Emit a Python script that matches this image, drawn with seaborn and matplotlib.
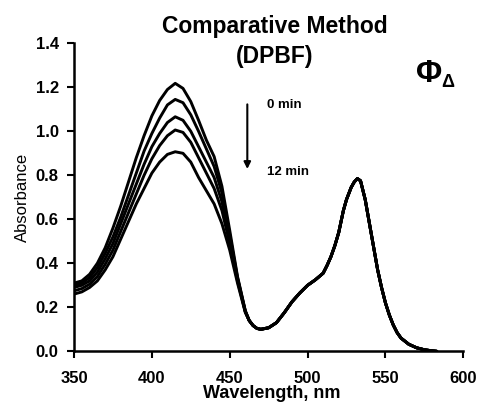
import matplotlib
matplotlib.use("Agg")
import matplotlib.pyplot as plt
import seaborn as sns
import pandas as pd
import numpy as np

# ---- data ----
wl_dpbf = [350, 355, 360, 365, 370, 375, 380, 385, 390, 395, 400, 405, 410,
           415, 420, 425, 430, 435, 440, 445, 450, 455, 460]
abs_0min = [0.31, 0.32, 0.35, 0.40, 0.47, 0.56, 0.66, 0.77, 0.88, 0.98, 1.07, 1.14, 1.19,
            1.218, 1.195, 1.135, 1.05, 0.96, 0.885, 0.75, 0.55, 0.34, 0.185]
abs_3min = [0.30, 0.31, 0.335, 0.38, 0.445, 0.52, 0.61, 0.71, 0.81, 0.91, 0.99, 1.06, 1.12,
            1.145, 1.13, 1.075, 1.00, 0.92, 0.84, 0.72, 0.53, 0.335, 0.183]
abs_6min = [0.29, 0.30, 0.32, 0.36, 0.42, 0.49, 0.58, 0.67, 0.76, 0.85, 0.93, 0.99, 1.04,
            1.066, 1.05, 1.00, 0.93, 0.86, 0.79, 0.68, 0.51, 0.33, 0.181]
abs_9min = [0.275, 0.285, 0.305, 0.34, 0.395, 0.46, 0.545, 0.63, 0.715, 0.80, 0.875, 0.935, 0.98,
            1.006, 0.995, 0.95, 0.88, 0.81, 0.74, 0.64, 0.49, 0.32, 0.179]
abs_12min = [0.26, 0.27, 0.29, 0.32, 0.37, 0.43, 0.51, 0.59, 0.67, 0.74, 0.81, 0.86, 0.895,
             0.907, 0.90, 0.86, 0.79, 0.73, 0.67, 0.58, 0.46, 0.31, 0.177]

wl_tail = [462.5, 465, 467.5, 470, 475, 480, 485, 490, 495, 500, 505, 510, 512.5, 515, 517.5,
           520, 523, 525, 528, 530, 532, 534, 537, 540, 542.5, 545, 547.5, 550, 552.5, 555,
           557.5, 560, 565, 570, 575, 580, 583]
abs_tail = [0.14, 0.117, 0.104, 0.10, 0.107, 0.13, 0.175, 0.225, 0.265, 0.30, 0.325, 0.355, 0.39, 0.43, 0.48,
            0.54, 0.64, 0.69, 0.745, 0.77, 0.785, 0.775, 0.69, 0.57, 0.47, 0.37, 0.29, 0.22, 0.165, 0.12,
            0.085, 0.06, 0.032, 0.016, 0.007, 0.002, 0.0]

times = ["0 min", "3 min", "6 min", "9 min", "12 min"]
series = [abs_0min, abs_3min, abs_6min, abs_9min, abs_12min]

x_ticks = [350, 400, 450, 500, 550, 600]
y_ticks = [0.0, 0.2, 0.4, 0.6, 0.8, 1.0, 1.2, 1.4]

rows = []
for t, s in zip(times, series):
    for w, a in zip(wl_dpbf + wl_tail, s + abs_tail):
        rows.append({"Wavelength": w, "Absorbance": a, "time": t})
df = pd.DataFrame(rows)

# ---- plotting ----
sns.set_style("ticks")
plt.rcParams['font.family'] = ['Liberation Sans', 'DejaVu Sans']
plt.rcParams['text.color'] = 'black'
plt.rcParams['axes.labelcolor'] = 'black'

fig = plt.figure(figsize=(4.8, 4.05), dpi=100)
ax = fig.add_axes([74/480, 1-351.3/405, 389.3/480, 308/405])

sns.lineplot(data=df, x="Wavelength", y="Absorbance", hue="time", hue_order=times,
             palette=["black"]*5, legend=False, sort=False, linewidth=2.1,
             solid_joinstyle='round', ax=ax)

ax.set_xlim(350, 600)
ax.set_ylim(0.0, 1.4)
ax.set_xticks(x_ticks)
ax.set_yticks(y_ticks)
ax.set_xticklabels([str(v) for v in x_ticks], fontsize=12, fontweight='bold')
ax.set_yticklabels([f"{v:.1f}" for v in y_ticks], fontsize=12, fontweight='bold')
ax.set_xlabel("")
ax.set_ylabel("")
sns.despine(ax=ax)
for sp in ["left", "bottom"]:
    ax.spines[sp].set_linewidth(1.8)
    ax.spines[sp].set_color('black')
ax.tick_params(axis='both', direction='out', length=5, width=1.5, colors='black')
ax.tick_params(axis='x', pad=9)
ax.tick_params(axis='y', pad=6)

fig.text(271.5/480, 1-398/405, "Wavelength, nm", ha='center', va='baseline',
         fontsize=13, fontweight='bold')
fig.text(22/480, 1-197.3/405, "Absorbance", ha='center', va='center', rotation=90,
         fontsize=12)

fig.text(275/480, 1-33.3/405, "Comparative Method", ha='center', va='baseline',
         fontsize=16.5, fontweight='bold')
fig.text(275/480, 1-63.3/405, "(DPBF)", ha='center', va='baseline',
         fontsize=16.5, fontweight='bold')

fig.text(416/480, 1-82/405, "Φ", ha='left', va='baseline', fontsize=23, fontweight='bold')
fig.text(441/480, 1-87/405, "Δ", ha='left', va='baseline', fontsize=13, fontweight='bold')

ax.annotate("", xy=(461.3, 0.816), xytext=(461.3, 1.135),
            arrowprops=dict(arrowstyle='-|>', color='black', lw=1.5, mutation_scale=10))
ax.text(474, 1.12, "0 min", ha='left', va='center', fontsize=9.5, fontweight='bold')
ax.text(474, 0.815, "12 min", ha='left', va='center', fontsize=9.5, fontweight='bold')

fig.savefig("out.png", dpi=100)
